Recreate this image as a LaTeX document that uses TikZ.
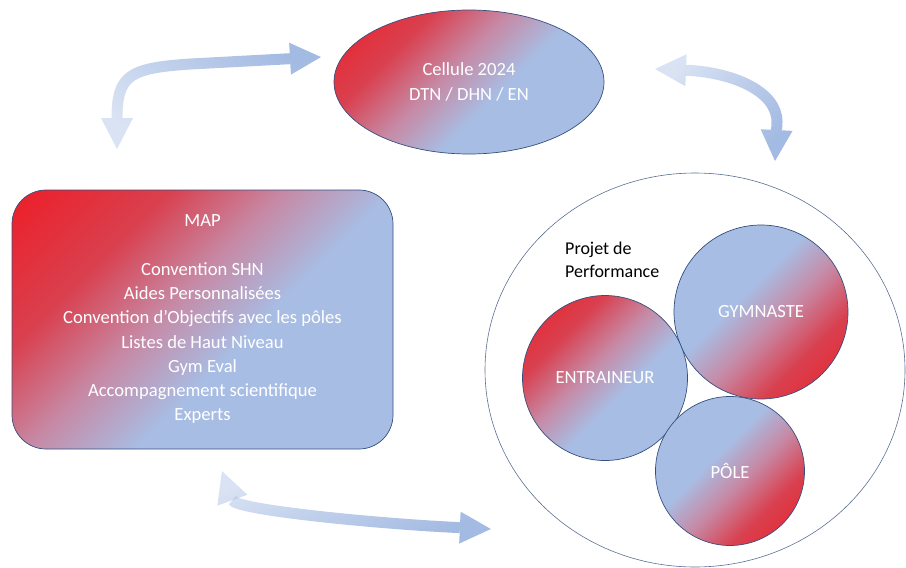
\documentclass[tikz,border=0pt]{standalone}
\usepackage{fontspec}
\setmainfont{Carlito}
\usepackage{tikz}
\usetikzlibrary{arrows.meta,shapes.geometric,fadings}
\definecolor{WarmRed}{HTML}{EE1D26}
\definecolor{DeepRose}{HTML}{D9404F}
\definecolor{MidRose}{HTML}{C68AA6}
\definecolor{CoolBlue}{HTML}{A8BDE4}
\definecolor{EdgeBlue}{HTML}{33507F}
\definecolor{RingGray}{HTML}{5C6F94}
\definecolor{FlowBlue}{HTML}{A3BAE2}
\pgfdeclareverticalshading{redblue}{100bp}{color(0bp)=(CoolBlue); color(43bp)=(CoolBlue);
  color(55bp)=(MidRose); color(68bp)=(DeepRose); color(86bp)=(WarmRed); color(100bp)=(WarmRed)}
\tikzfading[name=fade in east, left color=transparent!60, right color=transparent!0]

\begin{document}
\begin{tikzpicture}[x=1pt, y=-1pt,
  blob/.style={draw=EdgeBlue, line width=0.7pt, shading=redblue, text=white,
               font=\fontsize{18.6}{24.25}\selectfont, align=center, inner sep=0pt},
  redfirst/.style={shading angle=45},
  bluefirst/.style={shading angle=225},
  flow/.style={draw=FlowBlue, line width=11pt,
               arrows={Triangle[width=32pt,length=31pt,line width=0pt]-Triangle[width=32pt,length=31pt,line width=0pt]},
               path fading=fade in east}]
  \useasboundingbox (0,0) rectangle (906,568);
  \clip (0,0) rectangle (906,568);
  % main blocks
  \node[blob, redfirst, ellipse, minimum width=270pt, minimum height=144pt] (cell) at (469,82)
    {Cellule 2024\\DTN / DHN / EN};
  \node[blob, redfirst, rounded corners=34pt, minimum width=381pt, minimum height=259pt] (map) at (202.5,319.5)
    {MAP\\[24.25pt]Convention SHN\\Aides Personnalisées\\Convention d’Objectifs avec les pôles\\
     Listes de Haut Niveau\\Gym Eval\\Accompagnement scientifique\\Experts};
  \node[draw=RingGray, line width=0.6pt, ellipse, minimum width=420pt, minimum height=394pt] (proj) at (695,370) {};
  \node[font=\fontsize{18}{23}\selectfont, align=left, anchor=west, inner sep=0pt] (projlbl) at (565,260)
    {Projet de\\Performance};
  % actors
  \node[blob, bluefirst, circle, minimum size=174pt] (gym) at (761,312) {GYMNASTE};
  \node[blob, redfirst, circle, minimum size=165pt] (ent) at (605,378) {ENTRAINEUR};
  \node[blob, bluefirst, circle, minimum size=149pt] (pole) at (730,471) {PÔLE};
  % double arrows
  \coordinate (a1) at (117,149);
  \coordinate (b1) at (321,57);
  \coordinate (a2) at (655,69);
  \coordinate (b2) at (775,161);
  \coordinate (a3) at (222,471);
  \coordinate (b3) at (491,529);
  \draw[flow, fading angle=30] (a1) .. controls (117,75) and (130,68) .. (190,64) -- (b1);
  \draw[flow, fading angle=-30] (a2) .. controls (730,72) and (777,90) .. (777,122) -- (b2);
  \draw[flow, fading angle=-30] (a3) .. controls (236,510) and (380,524) .. (b3);
\end{tikzpicture}
\end{document}
